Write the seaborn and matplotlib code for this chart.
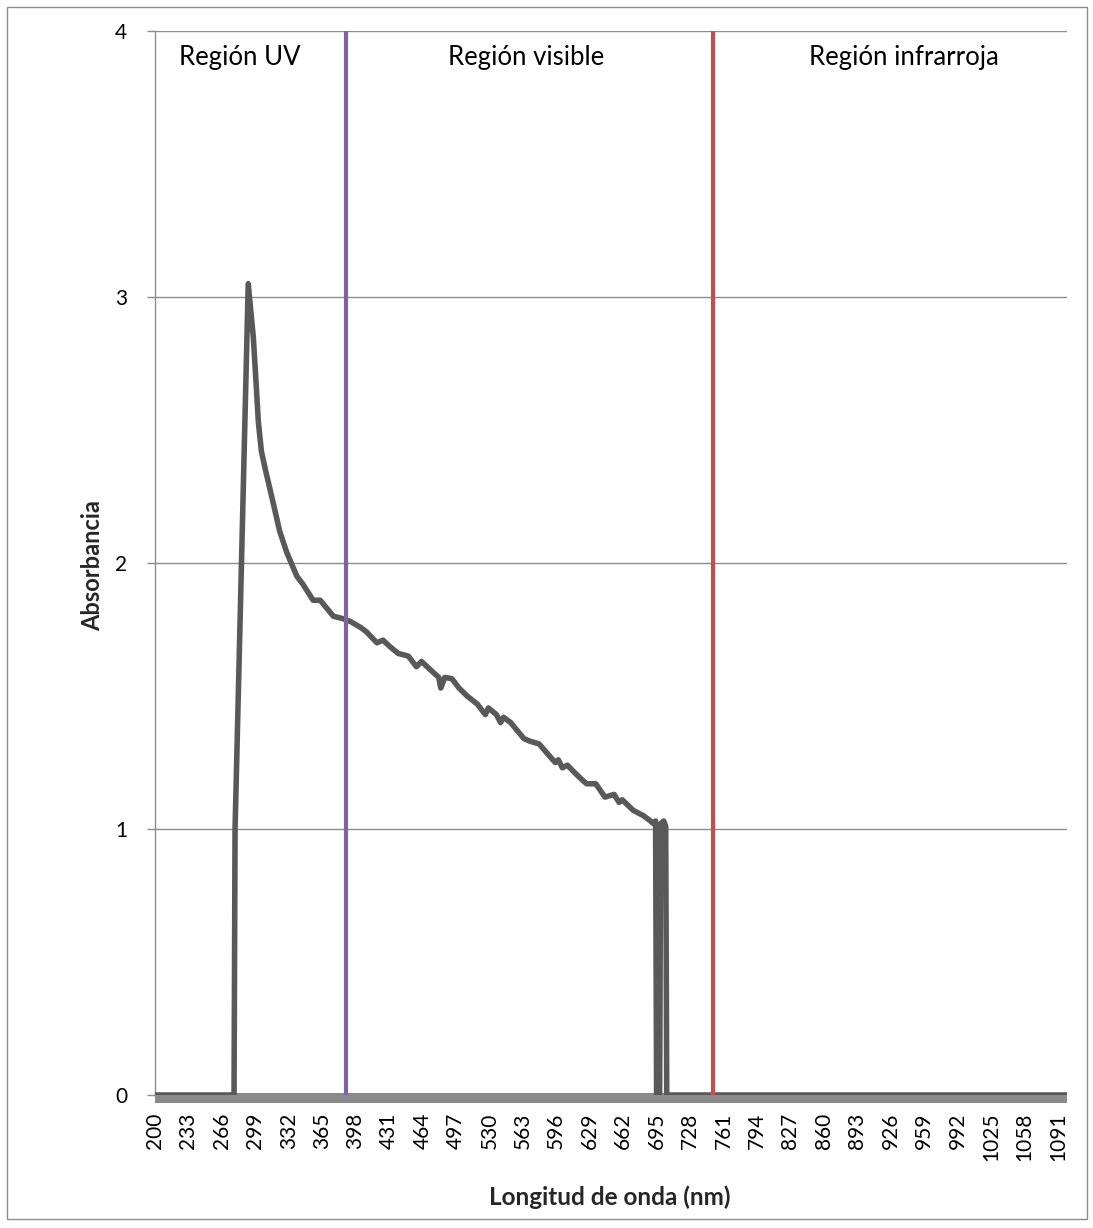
import numpy as np
import pandas as pd
import matplotlib
matplotlib.use("Agg")
import matplotlib.pyplot as plt
from matplotlib.patches import Rectangle
import seaborn as sns

# ---- data ----
wavelength = [200, 278, 279, 292, 297, 300, 302, 305, 309, 317, 323, 330, 340, 346,
              356, 363, 376, 386, 393, 404, 409, 419, 425, 432, 440, 450, 458, 463,
              470, 480, 482, 486, 493, 500, 508, 518, 526, 529, 537, 541, 544, 551,
              564, 570, 579, 588, 595, 598, 602, 607, 612, 620, 626, 635, 644, 653,
              658, 661, 672, 682, 689, 692, 694, 695, 698, 699, 702, 704, 705, 1100]
absorbance = [0, 0, 1.00, 3.05, 2.85, 2.66, 2.53, 2.42, 2.35, 2.22, 2.12, 2.04, 1.95, 1.92,
              1.86, 1.86, 1.80, 1.79, 1.78, 1.755, 1.74, 1.70, 1.71, 1.685, 1.66, 1.65, 1.61, 1.63,
              1.605, 1.57, 1.53, 1.57, 1.565, 1.53, 1.50, 1.47, 1.43, 1.455, 1.43, 1.40, 1.42, 1.40,
              1.34, 1.33, 1.32, 1.28, 1.25, 1.26, 1.23, 1.24, 1.22, 1.19, 1.17, 1.17, 1.12, 1.13,
              1.10, 1.11, 1.07, 1.05, 1.03, 1.02, 1.03, 0, 0, 1.02, 1.03, 1.01, 0, 0]

tick_values = list(range(200, 1100, 33))
tick_labels = [str(v) for v in tick_values]
y_ticks = [0, 1, 2, 3, 4]
region_names = ["Región UV", "Región visible", "Región infrarroja"]
region_x = [284, 566, 939]
boundaries = [388, 751]
boundary_colors = ["#8064A2", "#C0504D"]

df = pd.DataFrame({"Longitud de onda (nm)": wavelength, "Absorbancia": absorbance})

# ---- style ----
sns.set_theme(style="white")
plt.rcParams["font.family"] = ["Lato", "DejaVu Sans"]

W, H = 1093, 1228
fig = plt.figure(figsize=(W / 100, H / 100), dpi=100)
ax = fig.add_axes([155 / W, 1 - 1095 / H, (1067 - 155) / W, (1095 - 31) / H])

sns.lineplot(data=df, x="Longitud de onda (nm)", y="Absorbancia", ax=ax,
             color="#595959", lw=4.0, zorder=4, solid_joinstyle="round")

for xb, c in zip(boundaries, boundary_colors):
    ax.axvline(xb, color=c, lw=3.0, zorder=5)

ax.set_xlim(200, 1100)
ax.set_ylim(0, 4)
ax.set_yticks(y_ticks)
ax.set_yticklabels([str(v) for v in y_ticks])
ax.set_xticks(tick_values)
ax.set_xticklabels(tick_labels)
ax.grid(axis="y", color="#8c8c8c", lw=1.0)
ax.grid(axis="x", visible=False)
ax.set_axisbelow(True)

ax.tick_params(axis="y", length=6, width=1.0, color="#8c8c8c", pad=14,
               labelsize=15, labelcolor="black", left=True)
ax.tick_params(axis="x", length=0, pad=10, labelsize=15, labelcolor="black",
               labelrotation=90)

for s in ["top", "right"]:
    ax.spines[s].set_visible(False)
ax.spines["left"].set_color("#8c8c8c")
ax.spines["left"].set_linewidth(1.0)
ax.spines["bottom"].set_color("#8a8a8a")
ax.spines["bottom"].set_linewidth(7.2)
ax.spines["bottom"].set_capstyle("butt")
ax.spines["bottom"].set_position(("outward", 2.5))
ax.spines["bottom"].set_zorder(2)

for name, xr in zip(region_names, region_x):
    ax.text(xr, 3.90, name, ha="center", va="center", fontsize=18.5, color="black")

ax.set_xlabel("Longitud de onda (nm)", fontsize=17.5, fontweight="bold")
ax.set_ylabel("Absorbancia", fontsize=17, fontweight="bold")
ax.xaxis.set_label_coords((610 - 155) / 912, (1095 - 1197) / 1064)
ax.xaxis.label.set_verticalalignment("center")
ax.yaxis.set_label_coords((93 - 155) / 912, (1095 - 566) / 1064)
ax.yaxis.label.set_verticalalignment("center")

fig.patches.append(Rectangle((7 / W, 1 - 1219 / H), (1087 - 7) / W, (1219 - 7) / H,
                             transform=fig.transFigure, fill=False,
                             ec="#8c8c8c", lw=1.0))

fig.savefig("out.png", dpi=100, facecolor="white")
